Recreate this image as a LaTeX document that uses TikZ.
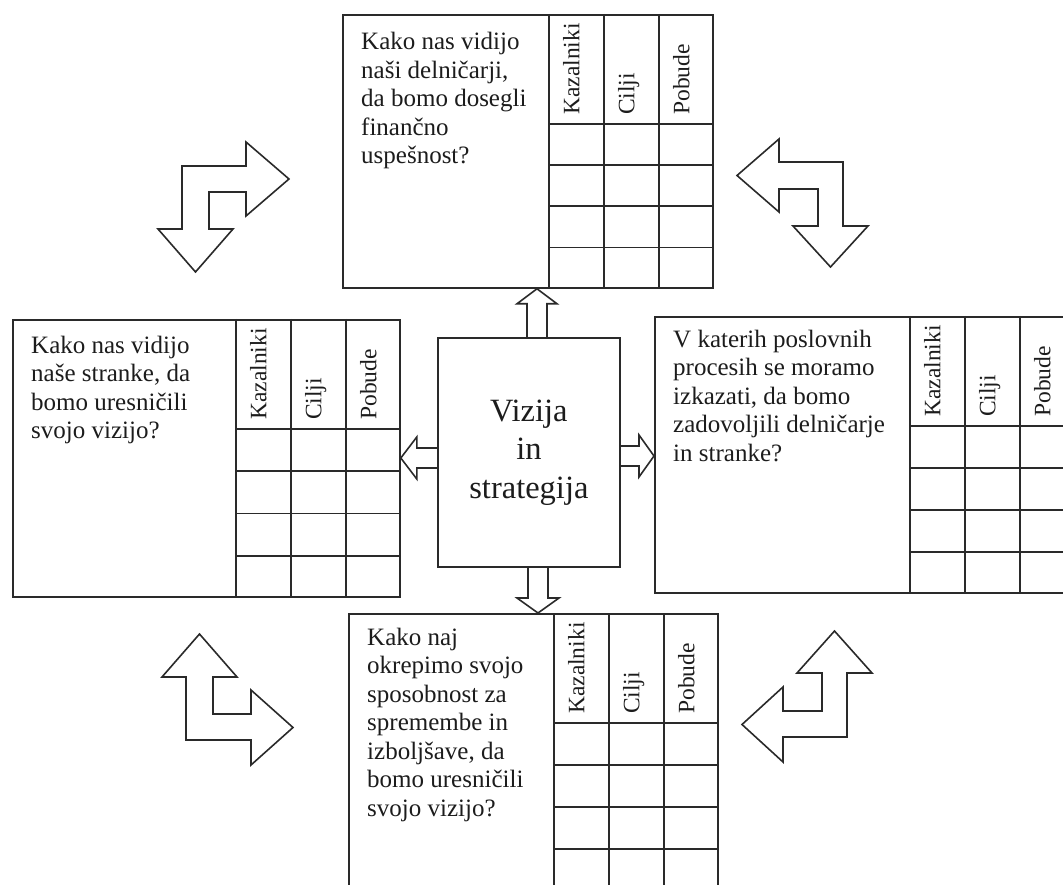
\documentclass[tikz,border=0pt]{standalone}
\usepackage{fontspec}
\setmainfont{Liberation Serif}
\usetikzlibrary{calc}
\definecolor{ink}{HTML}{2A2A2A}
\definecolor{type}{HTML}{1C1C1C}

% Three-column score table (Kazalniki / Cilji / Pobude) on the right side of a box node
\newcommand\scorecard[1]{%
  \coordinate (#1-hr) at ($(#1.north east)+(0,110)$);
  \coordinate (#1-hl) at ($(#1-hr)+(-165,0)$);
  \coordinate (#1-bl) at ($(#1.south east)+(-165,0)$);
  \foreach \c in {165,110,55}
    \draw[rule] ($(#1.north east)+(-\c,0)$) -- ($(#1.south east)+(-\c,0)$);
  \foreach \k in {0,0.25,0.5,0.75}
    \draw[rule] ($(#1-hl)!\k!(#1-bl)$) -- ($(#1-hr)!\k!(#1.south east)$);
  \node[collab] (#1-kaz) at ($(#1-hl)+(30.5,-9)$) {Kazalniki};
  \node[collab] (#1-cil) at ($(#1-hl)+(85.5,-9)$) {Cilji};
  \node[collab] (#1-pob) at ($(#1-hl)+(140.5,-9)$) {Pobude};
}

\begin{document}
\begin{tikzpicture}[x=1pt,y=-1pt,
  qbox/.style={draw=ink, line width=1.8pt, rectangle, inner sep=0pt, anchor=north west},
  rule/.style={draw=ink, line width=1.8pt},
  qtext/.style={anchor=north west, inner sep=0pt, align=left, text=type,
    font=\fontsize{25}{28.5}\selectfont},
  collab/.style={rotate=90, anchor=base west, inner sep=0pt, text=type,
    font=\fontsize{23.5}{26}\selectfont},
  fat/.style={draw=ink, line width=1.6pt, line join=miter},
]
\useasboundingbox (0,0) rectangle (1063,885);
\clip (0,0) rectangle (1063,885);

% the four perspective boxes
\node[qbox, minimum width=370pt, minimum height=273pt] (fin) at (342,14) {};
\node[qbox, minimum width=387pt, minimum height=277pt] (cust) at (12,319) {};
\node[qbox, minimum width=419pt, minimum height=276pt] (proc) at (654,316) {};
\node[qbox, minimum width=369pt, minimum height=276pt] (learn) at (348,613) {};

\scorecard{fin}
\scorecard{cust}
\scorecard{proc}
\scorecard{learn}

% questions
\node[qtext] (finq) at ($(fin.north west)+(19,18)$)
  {Kako nas vidijo\\naši delničarji,\\da bomo dosegli\\finančno\\uspešnost?};
\node[qtext] (custq) at ($(cust.north west)+(19,16.5)$)
  {Kako nas vidijo\\naše stranke, da\\bomo uresničili\\svojo vizijo?};
\node[qtext] (procq) at ($(proc.north west)+(19,13.5)$)
  {V katerih poslovnih\\procesih se moramo\\izkazati, da bomo\\zadovoljili delničarje\\in stranke?};
\node[qtext] (learnq) at ($(learn.north west)+(19,14.5)$)
  {Kako naj\\okrepimo svojo\\sposobnost za\\spremembe in\\izboljšave, da\\bomo uresničili\\svojo vizijo?};

% central box
\node[qbox, minimum width=182pt, minimum height=229pt, align=center, text=type,
  font=\fontsize{32.5}{38.5}\selectfont] (vis) at (437,337) {Vizija\\in\\strategija};

% block arrows from the centre to each perspective
\coordinate (ux) at (537,0);
\coordinate (dx) at (538,0);
\coordinate (ly) at (0,458);
\coordinate (ry) at (0,456);

\draw[fat] ($(vis.north -| ux)+(-10,0)$) -- ($(fin.south -| ux)+(-10,15)$)
  -- ($(fin.south -| ux)+(-20,15)$) -- (fin.south -| ux)
  -- ($(fin.south -| ux)+(20,15)$) -- ($(fin.south -| ux)+(10,15)$)
  -- ($(vis.north -| ux)+(10,0)$);

\draw[fat] ($(vis.south -| dx)+(-10,0)$) -- ($(learn.north -| dx)+(-10,-15)$)
  -- ($(learn.north -| dx)+(-21,-15)$) -- (learn.north -| dx)
  -- ($(learn.north -| dx)+(21,-15)$) -- ($(learn.north -| dx)+(10,-15)$)
  -- ($(vis.south -| dx)+(10,0)$);

\draw[fat] ($(vis.west |- ly)+(0,-10)$) -- ($(cust.east |- ly)+(16,-10)$)
  -- ($(cust.east |- ly)+(16,-21)$) -- (cust.east |- ly)
  -- ($(cust.east |- ly)+(16,21)$) -- ($(cust.east |- ly)+(16,10)$)
  -- ($(vis.west |- ly)+(0,10)$);

\draw[fat] ($(vis.east |- ry)+(0,-10)$) -- ($(proc.west |- ry)+(-15,-10)$)
  -- ($(proc.west |- ry)+(-15,-21)$) -- (proc.west |- ry)
  -- ($(proc.west |- ry)+(-15,21)$) -- ($(proc.west |- ry)+(-15,10)$)
  -- ($(vis.east |- ry)+(0,10)$);

% bent double arrows in the corners
\draw[fat] (182,166) -- (246,166) -- (246,142) -- (289,179) -- (246,216) -- (246,192)
  -- (209,192) -- (209,229) -- (233,229) -- (195.5,272) -- (158,229) -- (182,229) -- cycle;
\draw[fat] (737,175.5) -- (779,139) -- (779,162) -- (843,162) -- (843,226) -- (868,226)
  -- (830.5,267) -- (793,226) -- (818,226) -- (818,189) -- (779,189) -- (779,212) -- cycle;
\draw[fat] (199.5,634) -- (237,677) -- (213,677) -- (213,714) -- (251,714) -- (251,690)
  -- (293,727.5) -- (251,765) -- (251,740) -- (186,740) -- (186,677) -- (162,677) -- cycle;
\draw[fat] (834.5,631) -- (872,673) -- (847,673) -- (847,737) -- (783,737) -- (783,762)
  -- (742,724.5) -- (783,687) -- (783,711) -- (822,711) -- (822,673) -- (797,673) -- cycle;
\end{tikzpicture}
\end{document}
